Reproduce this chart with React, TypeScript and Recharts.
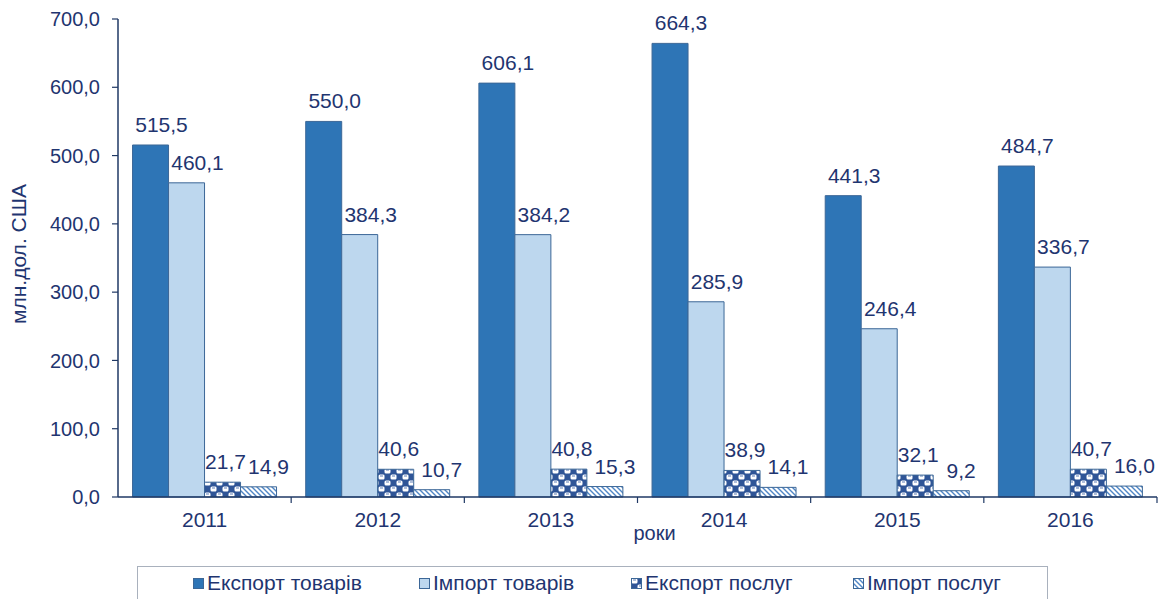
import { BarChart, Bar, XAxis, YAxis, Legend, LabelList } from 'recharts';

const years = ['2011', '2012', '2013', '2014', '2015', '2016'];
const exportGoods = [515.5, 550.0, 606.1, 664.3, 441.3, 484.7];
const importGoods = [460.1, 384.3, 384.2, 285.9, 246.4, 336.7];
const exportServices = [21.7, 40.6, 40.8, 38.9, 32.1, 40.7];
const importServices = [14.9, 10.7, 15.3, 14.1, 9.2, 16.0];
const yTicks = [0, 100, 200, 300, 400, 500, 600, 700];
const seriesNames = ['Експорт товарів', 'Імпорт товарів', 'Експорт послуг', 'Імпорт послуг'];

const data = years.map((year, i) => ({
  year,
  exportGoods: exportGoods[i],
  importGoods: importGoods[i],
  exportServices: exportServices[i],
  importServices: importServices[i],
}));

const TEXT = '#1F3570';
const AXIS = '#1F3864';
const FONT = '"Liberation Sans", Arial, sans-serif';
const EDGE = '#3C6797';

const fills = ['#2E75B6', '#BDD7EE', 'url(#checkDark)', 'url(#hatchLight)'];
const keys = ['exportGoods', 'importGoods', 'exportServices', 'importServices'];
const labelShift = [11, 11, 3, 10];

const fmt = (v: number) => Number(v).toFixed(1).replace('.', ',');

const makeLabel = (dx: number) => (props: any) => {
  const { x, y, width, value } = props;
  return (
    <text
      x={Number(x) + Number(width) / 2 + dx}
      y={Number(y) - 13}
      textAnchor="middle"
      fill={TEXT}
      fontSize={21}
      fontFamily={FONT}
    >
      {fmt(value)}
    </text>
  );
};

function XTick(props: any) {
  const { x, y, payload, index } = props;
  const half = payload?.offset ?? 86.5;
  const axisY = y - 15;
  return (
    <g>
      {index > 0 && <line x1={x - half} x2={x - half} y1={axisY} y2={axisY + 6} stroke={AXIS} strokeWidth={1.2} />}
      {index === years.length - 1 && (
        <line x1={x + half} x2={x + half} y1={axisY} y2={axisY + 6} stroke={AXIS} strokeWidth={1.2} />
      )}
      <text x={x} y={y} dy="0.71em" textAnchor="middle" fill={TEXT} fontSize={21} fontFamily={FONT}>
        {payload.value}
      </text>
    </g>
  );
}

function LegendBox() {
  const widths = [226, 212, 222, 160];
  return (
    <div
      style={{
        height: 33,
        boxSizing: 'border-box',
        borderTop: '1px solid #A9B1BD',
        borderLeft: '1px solid #A9B1BD',
        borderRight: '1px solid #A9B1BD',
        display: 'flex',
        alignItems: 'center',
        paddingLeft: 55,
        fontFamily: FONT,
        fontSize: 21,
        color: TEXT,
        whiteSpace: 'nowrap',
      }}
    >
      {seriesNames.map((name, i) => (
        <div key={name} style={{ width: widths[i], display: 'flex', alignItems: 'center' }}>
          <svg width={11} height={11} style={{ marginRight: 3 }}>
            <rect x={0.5} y={0.5} width={10} height={10} fill={fills[i]} stroke={EDGE} strokeWidth={1} />
          </svg>
          <span>{name}</span>
        </div>
      ))}
    </div>
  );
}

export default function App() {
  return (
    <div style={{ width: 1163, height: 599, background: '#fff' }}>
      <style>{'body{margin:0}'}</style>
      <BarChart
        width={1163}
        height={599}
        data={data}
        margin={{ top: 19, right: 6, left: 0, bottom: 0 }}
        barCategoryGap="8.4%"
        barGap={0}
      >
        <defs>
          <pattern id="checkDark" width="12" height="12" patternUnits="userSpaceOnUse">
            <rect width="12" height="12" fill="#2F5597" />
            <rect x="0.5" y="0.5" width="6" height="5" rx="1.6" fill="#ffffff" />
            <rect x="6.5" y="6.5" width="6" height="5" rx="1.6" fill="#ffffff" />
            <rect x="-5.5" y="6.5" width="6" height="5" rx="1.6" fill="#ffffff" />
            <rect x="2" y="1.5" width="3" height="1" fill="#5F7FB8" />
            <rect x="8" y="7.5" width="3" height="1" fill="#5F7FB8" />
          </pattern>
          <pattern id="hatchLight" width="5" height="5" patternUnits="userSpaceOnUse">
            <rect width="5" height="5" fill="#ffffff" />
            <path d="M-1,-1 L6,6 M-1,4 L1,6 M4,-1 L6,1" stroke="#4F86C6" strokeWidth="1.4" />
          </pattern>
        </defs>
        <XAxis
          dataKey="year"
          height={69}
          tickSize={6}
          tickMargin={9}
          tickLine={false}
          axisLine={{ stroke: AXIS, strokeWidth: 1.5 }}
          tick={<XTick />}
          interval={0}
          label={(p: any) => {
            const vb = p.viewBox;
            return (
              <text
                x={vb.x + vb.width / 2 + 17}
                y={vb.y + 43}
                textAnchor="middle"
                fill={TEXT}
                fontSize={20}
                fontFamily={FONT}
              >
                роки
              </text>
            );
          }}
        />
        <YAxis
          width={118}
          domain={[0, 700]}
          ticks={yTicks}
          tickFormatter={fmt}
          tickSize={6}
          tickMargin={12}
          tick={{ fill: TEXT, fontSize: 20, fontFamily: FONT }}
          tickLine={{ stroke: AXIS, strokeWidth: 1.2 }}
          axisLine={{ stroke: AXIS, strokeWidth: 1.5 }}
          label={(p: any) => {
            const vb = p.viewBox;
            const cx = 26;
            const cy = vb.y + vb.height / 2 - 4;
            return (
              <text
                x={cx}
                y={cy}
                transform={`rotate(-90, ${cx}, ${cy})`}
                textAnchor="middle"
                fill={TEXT}
                fontSize={21}
                fontFamily={FONT}
              >
                млн.дол. США
              </text>
            );
          }}
        />
        <Legend
          verticalAlign="bottom"
          height={33}
          wrapperStyle={{ left: 137, width: 911, bottom: 0 }}
          content={() => <LegendBox />}
        />
        {keys.map((k, i) => (
          <Bar
            key={k}
            dataKey={k}
            name={seriesNames[i]}
            fill={fills[i]}
            stroke={EDGE}
            strokeWidth={1}
            isAnimationActive={false}
          >
            <LabelList dataKey={k} content={makeLabel(labelShift[i])} />
          </Bar>
        ))}
      </BarChart>
    </div>
  );
}
